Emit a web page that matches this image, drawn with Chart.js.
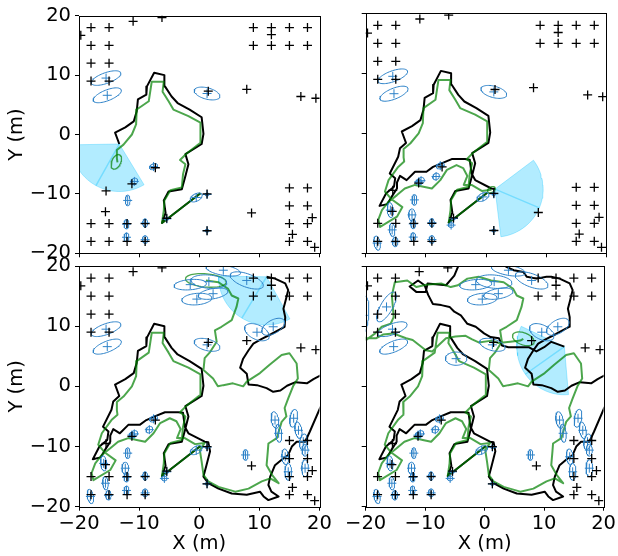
<!DOCTYPE html>
<html>
<head>
<meta charset="utf-8">
<script src="https://cdn.jsdelivr.net/npm/chart.js@4.4.0/dist/chart.umd.min.js"></script>
<style>
  html, body { margin: 0; padding: 0; background: #fff; overflow: hidden; }
  canvas { position: absolute; left: 0; top: 0; }
</style>
</head>
<body>
<canvas id="c0" width="618" height="556"></canvas>
<canvas id="c1" width="618" height="556"></canvas>
<canvas id="c2" width="618" height="556"></canvas>
<canvas id="c3" width="618" height="556"></canvas>
<script>
// true landmark positions [x, y]
const landmarks = [
  [-19.7, 16.7], [-18, 18], [-15, 18], [-18, 15], [-15, 15], [-18, 12], [-15, 12], [-18, 9], [-15, 9],
  [-11, 19.05], [-6.2, 19.7],
  [9, 18], [12, 18], [15, 18], [18, 18], [12, 16.8], [9, 15], [12, 15], [15, 15], [18, 15],
  [1.5, 7.3], [7.9, 7.6], [16.9, 6.4], [19.4, 6.1],
  [-7.3, -5.6], [-11.2, -8.3], [-15.5, -9.5], [-15.6, -13],
  [-18, -15], [-15, -15], [-12, -15], [-9, -15], [-18, -18], [-15, -18], [-12, -18], [-9, -18],
  [-5.4, -14.1], [1.3, -10], [1.3, -16.2],
  [15, -9], [18, -9], [15, -12], [18, -12], [8.7, -13.2], [18.8, -14],
  [15, -15], [18, -15], [15.5, -16.8], [15, -18], [18, -18], [19.2, -19]
];

// true robot path, one piece per frame
const truePath1 = [[0.2, -9.9], [-6.2, -14.9], [-5.6, -13.2], [-5.9, -11.1], [-5.1, -9.6], [-2.9, -9.2], [-2.3, -7.0], [-1.8, -5.0], [-2.3, -3.3], [0.4, -1.6], [0.7, 0.1], [0.4, 2.9], [-1.6, 4.2], [-3.6, 5.3], [-4.6, 6.4], [-5.7, 8.1], [-5.8, 10.0], [-7.5, 10.4], [-8.7, 8.1], [-8.8, 6.7], [-10.2, 5.9], [-10.4, 3.9], [-10.9, 2.2], [-12.3, 1.2], [-14.0, 0.3], [-13.3, -1.6]];
const truePath2 = [[-14.3, -2.5], [-14.6, -3.9], [-16.0, -6.7], [-15.1, -7.5], [-15.3, -8.9], [-16.6, -10.0], [-17.7, -12.1], [-16.4, -11.8], [-15.7, -10.6], [-14.8, -9.2], [-14.8, -8.2], [-14.3, -7.1], [-13.2, -7.8], [-11.8, -6.4], [-9.9, -6.4], [-8.8, -5.6], [-7.4, -5.0], [-5.7, -4.3], [-3.5, -4.3], [-2.7, -4.4], [-2.4, -6.7], [-1.8, -7.8], [0.9, -9.2], [1.5, -9.3]];
const truePath3 = [[1.8, -10.8], [1.2, -13.1], [0.7, -15.0], [1.5, -16.1], [3.2, -17.0], [5.4, -17.8], [7.9, -18.0], [10.1, -17.5], [10.7, -18.3], [11.5, -18.9], [13.2, -18.3], [12.0, -17.5], [11.5, -16.4], [11.8, -15.0], [12.6, -13.1], [13.7, -12.2], [14.8, -11.4], [15.4, -10.0], [16.2, -9.2], [17.6, -9.2], [18.4, -7.5], [20.1, -3.6], [21.5, -1.0], [20.1, 1.8], [19.0, 1.2], [17.9, 0.5], [16.0, 0.7], [14.6, 0.1], [13.5, -0.7], [12.3, -0.9], [11.2, -0.3], [9.6, 0.2], [8.2, 0.3], [7.9, 2.1], [6.8, 3.1], [7.3, 4.6], [8.2, 6.0], [9.0, 7.1], [10.4, 7.9], [12.0, 8.7], [14.2, 9.9], [14.3, 11.5], [14.0, 12.9], [14.3, 14.0], [14.8, 16.0], [14.3, 17.1], [12.6, 17.9], [11.2, 18.2]];
const truePath4 = [[10.4, 18.2], [8.7, 17.9], [7.1, 18.2], [6.5, 19.0], [4.9, 19.3], [3.75, 19.8], [2.0, 21.0], [-3.0, 21.0], [-4.3, 20.3], [-5.1, 18.4], [-6.5, 16.8], [-9.6, 17.1], [-9.9, 15.7], [-11.5, 15.7], [-12.6, 16.6], [-11.2, 17.6], [-10.1, 16.8], [-9.5, 15.2], [-8.7, 13.7], [-7.3, 13.5], [-5.9, 13.2], [-5.1, 12.4], [-4.0, 11.8], [-2.9, 10.4], [-1.5, 9.9], [-0.1, 8.8], [1.0, 8.2], [2.4, 8.0], [2.9, 6.8], [4.0, 6.5], [5.4, 6.5], [7.4, 6.5], [8.7, 5.8], [10.0, 6.5], [11.2, 7.4], [13.4, 6.6]];

// estimated robot path
const estPath1 = [[0.2, -9.9], [-6.2, -14.9], [-5.9, -12.8], [-5.8, -11.1], [-4.8, -9.4], [-2.9, -8.9], [-2.7, -6.7], [-2.3, -5.0], [-3.2, -4.3], [-2.1, -3.2], [0.2, -1.4], [0.2, 2.0], [-1.8, 3.1], [-4.3, 4.2], [-5.1, 5.6], [-6.1, 7.2], [-5.9, 8.9], [-7.9, 8.9], [-8.4, 5.6], [-10.4, 4.2], [-10.5, 1.7], [-11.2, 0.0], [-12.6, -1.7], [-13.7, -2.6], [-13.7, -4.0], [-13.6, -4.7]];
const estPath2 = [[-14.6, -5.6], [-16.2, -7.8], [-16.8, -9.7], [-15.7, -11.0], [-13.9, -12.3], [-14.8, -13.9], [-17.6, -15.6], [-17.9, -14.4], [-17.3, -12.8], [-16.2, -11.4], [-14.8, -10.3], [-13.5, -9.2], [-11.8, -8.6], [-10.4, -8.9], [-9.0, -9.2], [-7.6, -7.8], [-6.5, -6.1], [-4.9, -5.3], [-3.8, -5.8], [-3.1, -7.1], [-3.7, -8.6], [-2.4, -8.6], [-0.7, -9.6], [0.9, -9.4]];
const estPath3 = [[0.1, -10.6], [0.4, -12.5], [0.7, -14.7], [1.5, -15.8], [3.2, -16.7], [6.0, -17.5], [8.2, -17.0], [10.4, -15.8], [11.8, -15.3], [13.2, -16.1], [12.1, -14.7], [11.2, -13.1], [11.4, -10.8], [11.5, -9.5], [12.9, -8.6], [13.7, -5.9], [14.5, -5.0], [14.2, -3.6], [14.8, -2.0], [15.6, 0.0], [16.4, 1.3], [16.2, 3.8], [15.0, 5.5], [13.7, 5.2], [11.7, 3.6], [10.1, 2.2], [7.9, 0.8], [7.3, 0.0], [5.6, 0.5], [4.0, 0.2], [3.1, 0.0], [2.3, 1.3], [0.7, 2.7], [0.9, 4.7], [1.8, 5.7], [2.9, 7.4], [2.6, 9.3], [3.7, 9.9], [5.4, 11.0], [6.2, 13.2], [6.5, 14.6], [5.4, 15.1], [4.8, 16.2], [3.2, 17.3], [1.1, 17.6]];
const estPath4 = [[-1.0, 18.2], [-2.9, 17.9], [-4.5, 16.8], [-5.7, 16.5], [-7.3, 17.1], [-9.8, 16.9], [-11.5, 16.5], [-13.0, 17.6], [-15.1, 17.3], [-15.6, 15.1], [-15.3, 11.5], [-15.8, 10.4], [-17.3, 9.9], [-18.4, 8.8], [-19.8, 7.8], [-21.0, 7.8], [-21.0, 8.4], [-19.8, 8.0], [-18.2, 8.0], [-17.1, 8.6], [-15.4, 8.8], [-13.2, 8.0], [-12.1, 7.7], [-9.9, 6.0], [-8.8, 5.8], [-8.2, 6.4], [-6.5, 8.0], [-4.9, 8.3], [-3.2, 8.4], [-2.1, 7.8], [-1.0, 7.3], [1.2, 7.6], [2.3, 7.2], [4.3, 7.4], [6.0, 7.6], [6.5, 7.9]];

// estimated landmarks [x, y, semi-axis 1, semi-axis 2, angle deg], grouped by the frame they first show up in
const lmEst1 = [[-15.5, 9.5, 2.6, 0.9, 20], [-15.3, 6.6, 2.5, 0.9, 22], [1.3, 6.9, 2.2, 0.95, -15], [-7.6, -5.4, 0.7, 0.45, 30], [-10.8, -7.9, 0.6, 0.5, 45], [-11.9, -11.1, 0.9, 0.4, 90], [-12.1, -15.1, 0.8, 0.4, 90], [-9.0, -14.9, 0.7, 0.4, 90], [-12.1, -17.3, 0.75, 0.4, 90], [-9.0, -17.7, 0.65, 0.45, 90], [-0.5, -10.6, 1.1, 0.6, 30], [1.3, -10.1, 0.3, 0.25, 0], [-5.4, -14.2, 0.3, 0.25, 0], [1.3, -16.2, 0.3, 0.25, 0]];
const lmEst2 = [[-11.2, -8.1, 0.5, 0.45, 60], [-8.3, -7.2, 0.6, 0.5, 45], [-12.3, -13.6, 1.0, 0.55, 90], [-15.9, -12.8, 1.25, 0.5, 95], [-15.6, -16.1, 1.1, 0.45, 95], [-18.1, -18.3, 1.2, 0.5, 100], [-15.1, -18.1, 0.8, 0.45, 90], [-5.8, -15.3, 0.45, 0.4, 0]];
const lmEst3 = [[-1.5, 16.9, 2.7, 0.85, 5], [1.6, 17.4, 3.0, 1.1, -5], [4.0, 19.3, 2.9, 0.85, -10], [2.3, 15.4, 2.5, 0.85, 10], [-0.4, 14.5, 2.5, 0.95, 5], [7.9, 17.6, 2.9, 1.1, -20], [9.6, 9.0, 2.2, 1.2, -25], [12.3, 9.9, 2.1, 1.1, 30], [12.6, -5.6, 1.4, 0.6, 100], [13.2, -7.8, 1.5, 0.5, 95], [15.7, -5.3, 1.5, 0.6, 80], [16.5, -7.3, 1.4, 0.55, 100], [17.3, -9.2, 1.3, 0.6, 80], [14.3, -11.7, 1.3, 0.55, 95], [14.8, -14.2, 1.4, 0.55, 90], [17.6, -13.6, 1.4, 0.55, 90], [17.6, -10.6, 1.0, 0.5, 90], [7.7, -11.4, 0.9, 0.4, 90]];
const lmEst4 = [[-16.5, 13.2, 2.8, 1.0, 60], [-20.4, 11.8, 3.2, 0.9, 85], [-4.8, 4.6, 1.8, 1.1, 0]];

// estimated robot pose covariance per frame [x, y, semi-axis 1, semi-axis 2, angle deg]
const robotEll = [[-13.8, -4.6, 1.3, 0.75, 65], [0.9, -9.4, 0.7, 0.45, 30], [1.1, 17.6, 3.4, 1.1, -5], [6.5, 7.9, 1.9, 1.0, -20]];

// sensor field of view per frame
const sensorX = [-13.3, 1.5, 11.2, 13.4];
const sensorY = [-1.6, -9.3, 18.2, 6.6];
const sensorHeading = [241, -23, 239, 215];
const sensorRange = 8;
const sensorHalfFov = 60;

const tickValues = [-20, -10, 0, 10, 20];

const BLUE = 'rgb(45, 130, 200)';
const FONT = { family: 'DejaVu Sans', size: 19.5 };

const xy = p => ({ x: p[0], y: p[1] });

function ellipsePts(e) {
  const [cx, cy, a, b, deg] = e;
  const t = deg * Math.PI / 180;
  const pts = [];
  for (let k = 0; k <= 60; k++) {
    const u = k / 60 * 2 * Math.PI;
    pts.push({
      x: cx + a * Math.cos(u) * Math.cos(t) - b * Math.sin(u) * Math.sin(t),
      y: cy + a * Math.cos(u) * Math.sin(t) + b * Math.sin(u) * Math.cos(t)
    });
  }
  return pts;
}

function wedgePts(i) {
  const x = sensorX[i], y = sensorY[i], h = sensorHeading[i];
  const pts = [{ x, y }];
  for (let k = 0; k <= 30; k++) {
    const a = (h - sensorHalfFov + 2 * sensorHalfFov * k / 30) * Math.PI / 180;
    pts.push({ x: x + sensorRange * Math.cos(a), y: y + sensorRange * Math.sin(a) });
  }
  pts.push({ x, y });
  return pts;
}

const fmt = v => (v < 0 ? '\u2212' + Math.abs(v) : String(v));

// draws the full box round each plot
const frame = {
  id: 'frame',
  afterDraw(chart) {
    const { ctx, chartArea: a } = chart;
    ctx.save();
    ctx.strokeStyle = '#000';
    ctx.lineWidth = 1;
    ctx.strokeRect(Math.round(a.left) + 0.5, Math.round(a.top) + 0.5,
      Math.round(a.right) - Math.round(a.left), Math.round(a.bottom) - Math.round(a.top));
    ctx.restore();
  }
};

const panels = [
  { rect: [79, 13.3, 319.5, 253.3], xLabels: false, yLabels: true },
  { rect: [365.7, 13.3, 606.3, 253.3], xLabels: false, yLabels: false },
  { rect: [79, 266, 319.5, 506.7], xLabels: true, yLabels: true },
  { rect: [365.7, 266, 606.3, 506.7], xLabels: true, yLabels: false }
];

const truePieces = [truePath1, truePath2, truePath3, truePath4];
const estPieces = [estPath1, estPath2, estPath3, estPath4];
const lmPieces = [lmEst1, lmEst2, lmEst3, lmEst4];

panels.forEach((pan, i) => {
  const truePath = [].concat(...truePieces.slice(0, i + 1));
  const estPath = [].concat(...estPieces.slice(0, i + 1));
  const lmEst = [].concat(...lmPieces.slice(0, i + 1));
  const [L, T, R, B] = pan.rect;

  const datasets = [];
  datasets.push({
    data: landmarks.map(xy), showLine: false, pointStyle: 'cross', pointRadius: 4.5,
    borderColor: '#000', pointBorderColor: '#000', pointBorderWidth: 1.3, order: 1
  });
  datasets.push({
    data: lmEst.map(xy), showLine: false, pointStyle: 'cross', pointRadius: 4.5,
    borderColor: BLUE, pointBorderColor: BLUE, pointBorderWidth: 1, order: 2
  });
  lmEst.forEach(e => datasets.push({
    data: ellipsePts(e), showLine: true, borderColor: BLUE, borderWidth: 1, pointRadius: 0, order: 3
  }));
  datasets.push({
    data: ellipsePts(robotEll[i]), showLine: true, borderColor: 'rgba(0,128,0,0.7)', borderWidth: 1.3, pointRadius: 0, order: 3
  });
  datasets.push({
    data: estPath.map(xy), showLine: true, borderColor: 'rgba(0,128,0,0.7)', borderWidth: 2,
    borderJoinStyle: 'round', pointRadius: 0, order: 4
  });
  datasets.push({
    data: truePath.map(xy), showLine: true, borderColor: '#000', borderWidth: 2,
    borderJoinStyle: 'round', pointRadius: 0, order: 5
  });
  const h = sensorHeading[i] * Math.PI / 180;
  datasets.push({
    data: [{ x: sensorX[i], y: sensorY[i] },
           { x: sensorX[i] + sensorRange * Math.cos(h), y: sensorY[i] + sensorRange * Math.sin(h) }],
    showLine: true, borderColor: 'rgba(0,191,255,0.35)', borderWidth: 1.5, pointRadius: 0, order: 6
  });
  datasets.push({
    data: wedgePts(i), showLine: true, fill: 'shape', backgroundColor: 'rgba(0,191,255,0.3)',
    borderColor: 'rgba(0,191,255,0.3)', borderWidth: 1, pointRadius: 0, order: 7
  });

  new Chart(document.getElementById('c' + i), {
    type: 'scatter',
    data: { datasets },
    plugins: [frame],
    options: {
      responsive: false,
      animation: false,
      events: [],
      devicePixelRatio: 1,
      layout: { padding: { left: 0, top: T, right: 618 - R, bottom: 0 } },
      plugins: { legend: { display: false }, tooltip: { enabled: false } },
      scales: {
        x: {
          type: 'linear', min: -20, max: 20,
          afterBuildTicks: s => { s.ticks = tickValues.map(v => ({ value: v })); },
          afterFit: s => { s.height = 556 - B; },
          ticks: { display: pan.xLabels, font: FONT, color: '#000', padding: 2, callback: fmt },
          grid: { drawOnChartArea: false, drawTicks: true, tickLength: 4, color: '#000', lineWidth: 1 },
          border: { display: false },
          title: { display: pan.xLabels, text: 'X (m)', font: FONT, color: '#000', padding: { top: 0, bottom: 0 } }
        },
        y: {
          type: 'linear', min: -20, max: 20,
          afterBuildTicks: s => { s.ticks = tickValues.map(v => ({ value: v })); },
          afterFit: s => { s.width = L; },
          ticks: { display: pan.yLabels, font: FONT, color: '#000', padding: 4, callback: fmt },
          grid: { drawOnChartArea: false, drawTicks: true, tickLength: 4, color: '#000', lineWidth: 1 },
          border: { display: false },
          title: { display: pan.yLabels, text: 'Y (m)', font: FONT, color: '#000', padding: { top: 5, bottom: 0 } }
        }
      }
    }
  });
});
</script>
</body>
</html>
